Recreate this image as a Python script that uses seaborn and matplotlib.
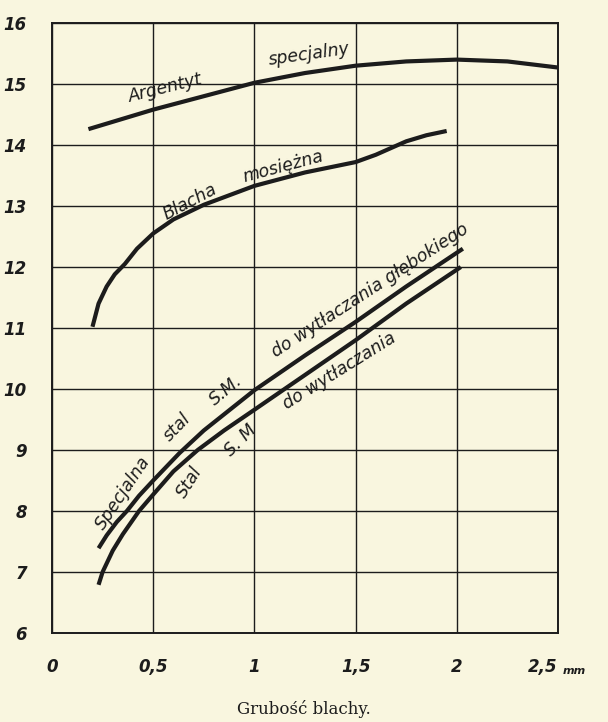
import seaborn as sns
import matplotlib.pyplot as plt
import pandas as pd

# Values (x: sheet thickness in mm)
argentyt_x = [0.18, 0.3, 0.5, 0.75, 1.0, 1.25, 1.5, 1.75, 2.0, 2.25, 2.5]
argentyt_y = [14.26, 14.38, 14.58, 14.8, 15.02, 15.18, 15.3, 15.37, 15.4, 15.37, 15.27]

mosiadz_x = [0.2, 0.23, 0.27, 0.31, 0.36, 0.42, 0.5, 0.6, 0.75, 1.0, 1.25, 1.5, 1.6, 1.75, 1.85, 1.95]
mosiadz_y = [11.02, 11.4, 11.68, 11.88, 12.05, 12.3, 12.55, 12.78, 13.02, 13.33, 13.55, 13.72, 13.84, 14.06, 14.16, 14.23]

spec_x = [0.23, 0.27, 0.32, 0.37, 0.43, 0.5, 0.63, 0.75, 1.0, 1.25, 1.5, 1.75, 2.03]
spec_y = [7.39, 7.6, 7.82, 8.0, 8.25, 8.5, 8.95, 9.32, 9.98, 10.55, 11.1, 11.68, 12.3]

stal_x = [0.23, 0.25, 0.3, 0.35, 0.43, 0.5, 0.6, 0.72, 0.85, 1.0, 1.25, 1.5, 1.75, 2.02]
stal_y = [6.79, 7.0, 7.35, 7.62, 8.0, 8.27, 8.65, 9.0, 9.32, 9.66, 10.23, 10.8, 11.4, 12.0]

x_ticks = [0, 0.5, 1, 1.5, 2, 2.5]
x_tick_labels = ["0", "0,5", "1", "1,5", "2", "2,5"]
y_ticks = [6, 7, 8, 9, 10, 11, 12, 13, 14, 15, 16]

paper = "#f9f6df"
ink = "#1c1c1c"

sns.set_theme(style="white")
plt.rcParams["font.family"] = ["DejaVu Sans"]

fig = plt.figure(figsize=(6.08, 7.22), dpi=100, facecolor=paper)
ax = fig.add_axes([52 / 608, 1 - 633 / 722, 506 / 608, 610 / 722])
ax.set_facecolor(paper)

curves = [
    (argentyt_x, argentyt_y),
    (mosiadz_x, mosiadz_y),
    (spec_x, spec_y),
    (stal_x, stal_y),
]
for xs, ys in curves:
    df = pd.DataFrame({"x": xs, "y": ys})
    sns.lineplot(data=df, x="x", y="y", ax=ax, color=ink, linewidth=3.0,
                 sort=False, estimator=None, solid_capstyle="butt")

ax.set_xlim(0, 2.5)
ax.set_ylim(6, 16)
ax.set_xticks(x_ticks)
ax.set_xticklabels(x_tick_labels)
ax.set_yticks(y_ticks)
ax.set_yticklabels([str(v) for v in y_ticks])
ax.grid(True, color=ink, linewidth=1.0)
ax.set_axisbelow(True)
for s in ax.spines.values():
    s.set_visible(True)
    s.set_color(ink)
    s.set_linewidth(1.4)

ax.tick_params(axis="both", length=0, colors=ink)
ax.tick_params(axis="x", pad=18)
ax.tick_params(axis="y", pad=18)
for lab in ax.get_xticklabels() + ax.get_yticklabels():
    lab.set_fontfamily(["DejaVu Sans"])
    lab.set_fontstyle("italic")
    lab.set_fontweight("bold")
    lab.set_fontsize(12)
# shift the last x label left to make room for the unit
ax.get_xticklabels()[-1].set_horizontalalignment("right")
fig.text(563 / 608, 1 - 671 / 722, "mm", fontsize=8, style="italic",
         fontweight="bold", color=ink, ha="left", va="center")

ax.set_xlabel("")
ax.set_ylabel("")
fig.text(0.5, 1 - 709 / 722, "Grubość blachy.", family=["DejaVu Serif"],
         fontsize=12, color=ink, ha="center", va="center")

# curve labels, rotated along the curves
lab = dict(family=["DejaVu Sans"], style="italic",
           fontsize=12.5, color=ink, ha="center", va="center", rotation_mode="anchor")
ax.text(0.56, 14.93, "Argentyt", rotation=14, **lab)
ax.text(1.27, 15.48, "specjalny", rotation=8, **lab)
ax.text(0.68, 13.07, "Blacha", rotation=28, **lab)
ax.text(1.14, 13.64, "mosiężna", rotation=15, **lab)
ax.text(0.35, 8.3, "Specjalna", rotation=56, **lab)
ax.text(0.62, 9.38, "stal", rotation=46, **lab)
ax.text(0.86, 9.98, "S.M.", rotation=40, **lab)
ax.text(1.57, 11.62, "do wytłaczania głębokiego", rotation=33, **lab)
ax.text(0.68, 8.48, "Stal", rotation=58, **lab)
ax.text(0.93, 9.16, "S. M", rotation=45, **lab)
ax.text(1.42, 10.3, "do wytłaczania", rotation=32, **lab)

plt.savefig("out.png", dpi=100, facecolor=paper)
plt.close()
